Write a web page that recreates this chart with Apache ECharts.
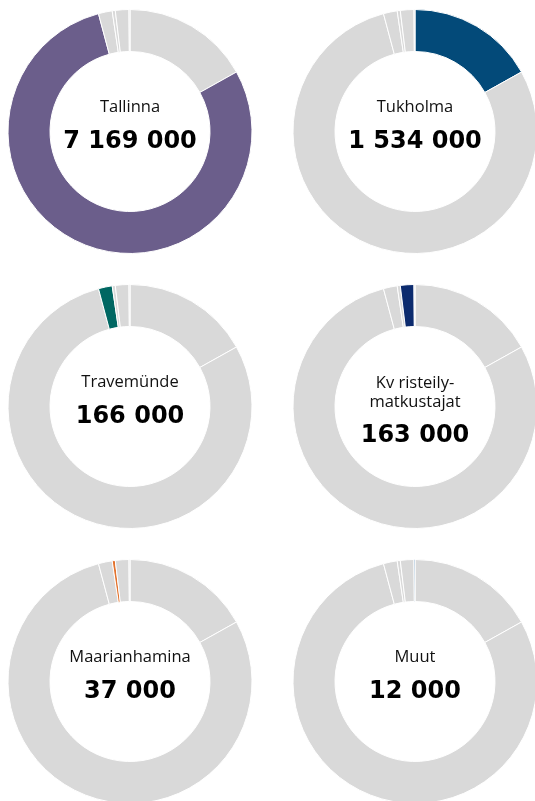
<!DOCTYPE html>
<html>
<head>
<meta charset="utf-8">
<script src="https://cdn.jsdelivr.net/npm/echarts@6/dist/echarts.min.js"></script>
<style>
  html, body { margin: 0; padding: 0; background: #ffffff; }
  #chart { width: 535px; height: 801px; }
</style>
</head>
<body>
<div id="chart"></div>
<script>
// Passenger counts by harbour, in ring order (clockwise from 12 o'clock)
const categories = ['Tukholma', 'Tallinna', 'Travemünde', 'Maarianhamina', 'Kv risteilymatkustajat', 'Muut'];
const values = [1534000, 7169000, 166000, 37000, 163000, 12000];
// Centre titles for each category
const titles = ['Tukholma', 'Tallinna', 'Travemünde', 'Maarianhamina', 'Kv risteily-\nmatkustajat', 'Muut'];
// Highlight colour of each category
const colors = ['#034a79', '#6b5e8b', '#006762', '#e3732e', '#0c2b6e', '#2c6fa6'];
// Panel order, reading left to right, top to bottom
const panelOrder = ['Tallinna', 'Tukholma', 'Travemünde', 'Kv risteilymatkustajat', 'Maarianhamina', 'Muut'];

const GREY = '#d9d9d9';
const colX = [130, 415];
const rowY = [131.5, 406.5, 681.5];

function fmt(v) {
  return String(v).replace(/\B(?=(\d{3})+(?!\d))/g, ' ');
}

const series = [];
const graphic = [];

panelOrder.forEach(function (name, p) {
  const cx = colX[p % 2];
  const cy = rowY[Math.floor(p / 2)];
  const hi = categories.indexOf(name);

  series.push({
    type: 'pie',
    center: [cx, cy],
    radius: [80, 122],
    startAngle: 90,
    clockwise: true,
    silent: true,
    animation: false,
    label: { show: false },
    labelLine: { show: false },
    itemStyle: { borderColor: '#ffffff', borderWidth: 1 },
    data: categories.map(function (c, i) {
      return {
        name: c,
        value: values[i],
        itemStyle: { color: i === hi ? colors[i] : GREY }
      };
    })
  });

  const title = titles[hi];
  const twoLines = title.indexOf('\n') >= 0;
  graphic.push({
    type: 'text',
    x: cx,
    y: twoLines ? cy - 14 : cy - 24,
    silent: true,
    style: {
      text: title,
      align: 'center',
      verticalAlign: 'middle',
      fontFamily: 'Open Sans, sans-serif',
      fontSize: 16.5,
      lineHeight: 19,
      fill: '#111111'
    }
  });
  graphic.push({
    type: 'text',
    x: cx,
    y: twoLines ? cy + 29.5 : cy + 10.5,
    silent: true,
    style: {
      text: fmt(values[hi]),
      align: 'center',
      verticalAlign: 'middle',
      fontFamily: 'DejaVu Sans, sans-serif',
      fontWeight: 'bold',
      fontSize: 24,
      fill: '#000000'
    }
  });
});

const chart = echarts.init(document.getElementById('chart'), null, { renderer: 'canvas' });
chart.setOption({
  backgroundColor: '#ffffff',
  animation: false,
  series: series,
  graphic: graphic
});
</script>
</body>
</html>
